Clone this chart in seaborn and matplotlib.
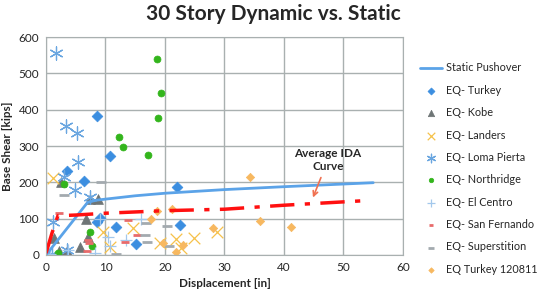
import numpy as np
import pandas as pd
import matplotlib
matplotlib.use("Agg")
import matplotlib.pyplot as plt
import seaborn as sns

# static pushover and average IDA curves
push_x = [0, 7.0, 8.5, 15, 20, 30, 40, 55]
push_y = [0, 145, 151, 163, 170, 180, 188, 199]
ida_x = [0, 1.0, 2.0, 5, 10, 20, 30, 40, 53]
ida_y = [5, 60, 108, 110, 115, 122, 126, 137, 149]

# earthquake records
turkey_x = [3.5, 6.4, 8.5, 8.6, 9.0, 10.8, 11.8, 15.2, 22.1, 22.5]
turkey_y = [232, 203, 383, 92, 103, 272, 78, 30, 188, 82]
kobe_x = [1.3, 2.2, 2.5, 3.6, 5.7, 6.8, 7.1, 7.4, 8.8]
kobe_y = [46, 11, 202, 10, 23, 98, 49, 155, 155]
landers_x = [1.1, 9.5, 10.8, 14.7, 19.2, 21.8, 22.7, 24.9, 28.8]
landers_y = [211, 64, 23, 75, 32, 45, 19, 46, 64]
loma_x = [1.7, 3.4, 5.2, 5.3, 3.0, 4.9, 7.4, 1.2, 3.5, 1.0]
loma_y = [555, 356, 335, 257, 214, 180, 160, 92, 14, 4]
north_x = [18.7, 19.3, 18.9, 12.3, 13.0, 17.2, 3.0, 7.4, 7.7, 2.1]
north_y = [539, 445, 378, 324, 296, 274, 196, 63, 25, 6]
centro_x = [0.6, 3.7, 8.2, 9.1, 10.5, 10.8, 13.5, 15.9]
centro_y = [3, 14, 5, 100, 50, 24, 40, 98]
sanfer_x = [2.2, 6.9, 7.1, 7.3, 13.3, 13.8, 15.3]
sanfer_y = [116, 11, 41, 32, 37, 96, 55]
superst_x = [3.0, 9.2, 11.7, 16.6, 16.8, 17.0, 20.4, 20.6]
superst_y = [165, 200, 2, 55, 87, 35, 80, 25]
turkey2_x = [17.6, 18.6, 19.6, 21.2, 21.8, 23.1, 28.0, 34.3, 36.0, 41.1]
turkey2_y = [100, 121, 32, 126, 9, 28, 73, 216, 94, 78]

sns.set_style("white")
plt.rcParams['font.family'] = ['Lato', 'DejaVu Sans']

fig = plt.figure(figsize=(5.47, 2.98), dpi=100)
ax = fig.add_axes([0.0841, 0.1443, 0.6526, 0.7315])

grid_c = '#a9b0b0'
ax.set_axisbelow(True)
ax.grid(True, color=grid_c, linewidth=1.0)

sns.lineplot(x=push_x, y=push_y, ax=ax, color='#5ba3e8', linewidth=2,
             label='Static Pushover', sort=False)

series = [
    ('EQ- Turkey', turkey_x, turkey_y, 'D', '#3b8ee0', 30, 0),
    ('EQ- Kobe', kobe_x, kobe_y, '^', '#6e7576', 50, 0),
    ('EQ- Landers', landers_x, landers_y, 'x', '#f6c24a', 70, 0.9),
    ('EQ- Loma Pierta', loma_x, loma_y, (6, 2, 0), '#6aa6e0', 90, 0.9),
    ('EQ- Northridge', north_x, north_y, 'o', '#33b51c', 25, 0),
    ('EQ- El Centro', centro_x, centro_y, '+', '#a3c8ec', 80, 0.9),
    ('EQ- San Fernando', sanfer_x, sanfer_y, '_', '#e86b6b', 30, 2),
    ('EQ- Superstition', superst_x, superst_y, '_', '#a3aaaf', 55, 2),
    ('EQ Turkey 120811', turkey2_x, turkey2_y, 'D', '#f7b860', 18, 0),
]
for name, xs, ys, mk, col, sz, lw in series:
    df = pd.DataFrame({'x': xs, 'y': ys})
    if mk in ('x', '+', '_') or isinstance(mk, tuple):
        sns.scatterplot(data=df, x='x', y='y', ax=ax, marker=mk, color=col,
                        s=sz, linewidth=lw, label=name)
    else:
        sns.scatterplot(data=df, x='x', y='y', ax=ax, marker=mk, color=col,
                        s=sz, edgecolor=col, linewidth=0.5, label=name)

sns.lineplot(x=ida_x, y=ida_y, ax=ax, color='#ff1010', linewidth=2.5,
             sort=False, legend=False)
ax.lines[-1].set_dashes([7, 3, 1.5, 3])

ax.annotate('Average IDA\nCurve', xy=(44.7, 151), xytext=(47.4, 262),
            ha='center', va='center', fontsize=8.5, fontweight='bold',
            arrowprops=dict(arrowstyle='->', color='#f07050', lw=1.2))

ax.set_xlim(0, 60)
ax.set_ylim(0, 600)
ax.set_xticks(range(0, 61, 10))
ax.set_yticks(range(0, 601, 100))
ax.tick_params(labelsize=8.5, length=0, pad=5)
for s in ax.spines.values():
    s.set_color(grid_c)
ax.set_xlabel('Displacement [in]', fontsize=8.5, fontweight='bold')
ax.set_ylabel('Base Shear [kips]', fontsize=8.5, fontweight='bold')

fig.suptitle('30 Story Dynamic vs. Static', fontsize=15, fontweight='bold',
             x=0.5, y=0.985)

h, l = ax.get_legend_handles_labels()
ax.legend_.remove()
fig.legend(h, l, loc='upper left', bbox_to_anchor=(0.76, 0.805),
           frameon=False, fontsize=7.8, handlelength=2.0, labelspacing=1.05,
           borderaxespad=0, handletextpad=0.4, markerscale=0.65)

fig.savefig('out.png', dpi=100)
